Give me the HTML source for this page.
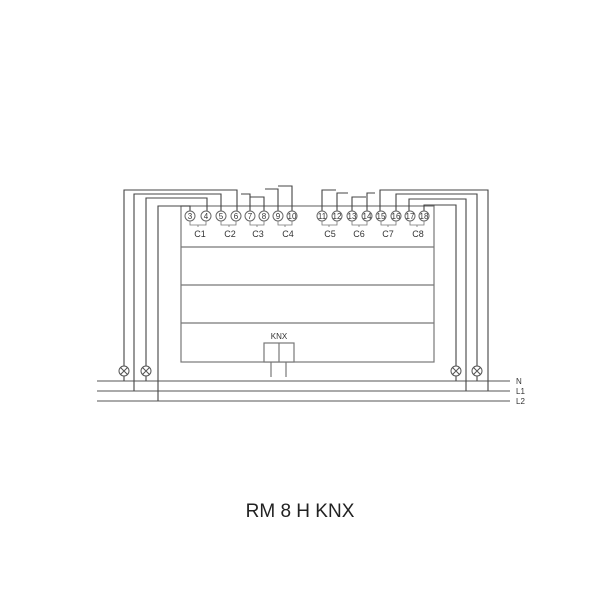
<!DOCTYPE html>
<html><head><style>body{margin:0;background:#fff}svg{display:block}</style></head><body>
<svg width="600" height="600" viewBox="0 0 600 600" font-family="Liberation Sans, sans-serif">
<g fill="none" stroke="#777" stroke-width="1.2">
<rect x="181" y="206" width="253" height="156"/>
<line x1="181" y1="247" x2="434" y2="247"/>
<line x1="181" y1="285" x2="434" y2="285"/>
<line x1="181" y1="323" x2="434" y2="323"/>
<rect x="264" y="343" width="30" height="19" fill="#fff"/>
<line x1="279" y1="343" x2="279" y2="362"/>
<line x1="271" y1="362" x2="271" y2="377"/>
<line x1="286" y1="362" x2="286" y2="377"/>
<line x1="97" y1="381" x2="510" y2="381"/>
<line x1="97" y1="391" x2="510" y2="391"/>
<line x1="97" y1="401" x2="510" y2="401"/>
</g>
<g fill="none" stroke="#444" stroke-width="1.1">
<polyline points="124,366 124,190 237,190 237,211"/>
<polyline points="134,391 134,194 221,194 221,211"/>
<polyline points="146,366 146,198 207,198 207,211"/>
<polyline points="158,401 158,206 190,206 190,211"/>
<polyline points="241,194 250,194 250,211"/>
<polyline points="250,197 264,197 264,211"/>
<polyline points="265,189 278,189 278,211"/>
<polyline points="278,186 292,186 292,211"/>
<polyline points="322,211 322,190 336,190"/>
<polyline points="337,211 337,193 348,193"/>
<polyline points="352,211 352,197 366,197"/>
<polyline points="367,211 367,193 375,193"/>
<polyline points="380,211 380,190 488,190 488,391"/>
<polyline points="396,211 396,194 477,194 477,366"/>
<polyline points="409,211 409,199 466,199 466,391"/>
<polyline points="424,211 424,205 456,205 456,366"/>
<line x1="124" y1="376" x2="124" y2="381"/><line x1="146" y1="376" x2="146" y2="381"/>
<line x1="456" y1="376" x2="456" y2="381"/><line x1="477" y1="376" x2="477" y2="381"/>
</g>
<g fill="#fff" stroke="#555" stroke-width="1">
<g id="l"><circle cx="124" cy="371" r="5"/><path d="M120.5 367.5l7 7M127.5 367.5l-7 7"/></g>
<circle cx="146" cy="371" r="5"/><path d="M142.5 367.5l7 7M149.5 367.5l-7 7"/>
<circle cx="456" cy="371" r="5"/><path d="M452.5 367.5l7 7M459.5 367.5l-7 7"/>
<circle cx="477" cy="371" r="5"/><path d="M473.5 367.5l7 7M480.5 367.5l-7 7"/>
</g>
<g fill="#fff" stroke="#666" stroke-width="1">
<circle cx="190" cy="216" r="5"/><circle cx="206" cy="216" r="5"/><circle cx="221" cy="216" r="5"/><circle cx="236" cy="216" r="5"/>
<circle cx="250" cy="216" r="5"/><circle cx="264" cy="216" r="5"/><circle cx="278" cy="216" r="5"/><circle cx="292" cy="216" r="5"/>
<circle cx="322" cy="216" r="5"/><circle cx="337" cy="216" r="5"/><circle cx="352" cy="216" r="5"/><circle cx="367" cy="216" r="5"/>
<circle cx="381" cy="216" r="5"/><circle cx="396" cy="216" r="5"/><circle cx="410" cy="216" r="5"/><circle cx="424" cy="216" r="5"/>
</g>
<g fill="none" stroke="#777" stroke-width="0.8">
<path d="M190 221v4h16v-4M198 225v2"/><path d="M221 221v4h15v-4M229 225v2"/><path d="M250 221v4h14v-4M257 225v2"/><path d="M278 221v4h14v-4M285 225v2"/>
<path d="M322 221v4h15v-4M329 225v2"/><path d="M352 221v4h15v-4M359 225v2"/><path d="M381 221v4h15v-4M388 225v2"/><path d="M410 221v4h14v-4M417 225v2"/>
</g>
<g font-size="8" fill="#333" text-anchor="middle">
<text x="190" y="219">3</text><text x="206" y="219">4</text><text x="221" y="219">5</text><text x="236" y="219">6</text>
<text x="250" y="219">7</text><text x="264" y="219">8</text><text x="278" y="219">9</text><text x="292" y="219">10</text>
<text x="322" y="219">11</text><text x="337" y="219">12</text><text x="352" y="219">13</text><text x="367" y="219">14</text>
<text x="381" y="219">15</text><text x="396" y="219">16</text><text x="410" y="219">17</text><text x="424" y="219">18</text>
</g>
<g font-size="9" fill="#333" text-anchor="middle">
<text x="200" y="237">C1</text><text x="230" y="237">C2</text><text x="258" y="237">C3</text><text x="288" y="237">C4</text>
<text x="330" y="237">C5</text><text x="359" y="237">C6</text><text x="388" y="237">C7</text><text x="418" y="237">C8</text>
<text x="279" y="339" font-size="8">KNX</text>
</g>
<g font-size="8" fill="#333">
<text x="516" y="384">N</text><text x="516" y="394">L1</text><text x="516" y="404">L2</text>
</g>
<text x="300" y="517" font-size="19" fill="#222" text-anchor="middle">RM 8 H KNX</text>
</svg>
</body></html>
